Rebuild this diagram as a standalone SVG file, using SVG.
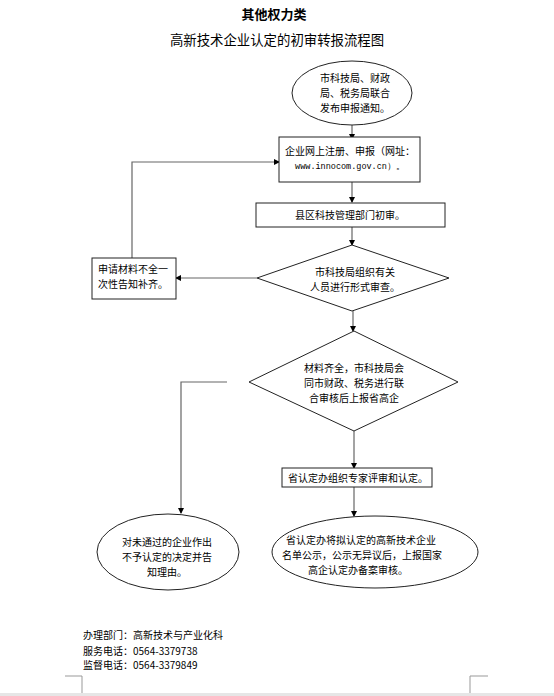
<svg xmlns="http://www.w3.org/2000/svg" width="554" height="696" viewBox="0 0 554 696">
<defs>
<marker id="arr" markerWidth="6" markerHeight="6" refX="5" refY="3" orient="auto" markerUnits="userSpaceOnUse">
<path d="M0,0 L6,3 L0,6 z" fill="#000"/>
</marker>
<style>
.t{font-family:"Noto Sans CJK SC","Liberation Sans",sans-serif;font-size:10px;fill:#000}
.c{text-anchor:middle}
.s{fill:#fff;stroke:#222;stroke-width:1}
.e{fill:none;stroke:#666;stroke-width:1.2;marker-end:url(#arr)}
.l{fill:none;stroke:#666;stroke-width:1.2}
</style>
</defs>
<rect width="554" height="696" fill="#fff"/>
<text class="t c" x="274" y="19" style="font-size:13px;font-weight:bold">其他权力类</text>
<text class="t c" x="277" y="45" style="font-size:13.4px">高新技术企业认定的初审转报流程图</text>

<g id="connectors">
<path class="e" d="M352,125 V139"/>
<path class="e" d="M352,182 V202"/>
<path class="e" d="M352,227 V245"/>
<path class="e" d="M257,278 H176"/>
<path class="e" d="M132,258 V162 H279"/>
<path class="e" d="M353,311 V331"/>
<path class="e" d="M227,382 H181 V513"/>
<path class="e" d="M354,431 V468"/>
<path class="e" d="M354,487 V516"/>
</g>

<g id="n1">
<ellipse class="s" cx="352" cy="93" rx="60" ry="32"/>
<text class="t" x="320" y="82">市科技局、财政</text>
<text class="t" x="320" y="97">局、税务局联合</text>
<text class="t" x="320" y="112">发布申报通知。</text>
</g>

<g id="n2">
<rect class="s" x="279" y="137" width="141" height="45"/>
<text class="t c" x="350" y="155">企业网上注册、申报（网址：</text>
<text class="t c" x="350" y="169" style="font-size:8.5px;font-family:'Liberation Mono',monospace">www.innocom.gov.cn）。</text>
</g>

<g id="n3">
<rect class="s" x="256" y="203" width="189" height="24"/>
<text class="t c" x="350" y="219">县区科技管理部门初审。</text>
</g>

<g id="n4">
<polygon class="s" points="352,245 449,278 352,311 257,278"/>
<text class="t c" x="355" y="276">市科技局组织有关</text>
<text class="t c" x="355" y="291">人员进行形式审查。</text>
</g>

<g id="n5">
<rect class="s" x="92" y="258" width="84" height="41"/>
<text class="t" x="98" y="273">申请材料不全一</text>
<text class="t" x="98" y="288">次性告知补齐。</text>
</g>

<g id="n6">
<polygon class="s" points="354,331 458,382 354,431 249,382"/>
<text class="t c" x="354" y="372">材料齐全，市科技局会</text>
<text class="t c" x="354" y="387">同市财政、税务进行联</text>
<text class="t c" x="354" y="402">合审核后上报省高企</text>
</g>

<g id="n7">
<rect class="s" x="282" y="468" width="150" height="19"/>
<text class="t" x="288" y="482">省认定办组织专家评审和认定。</text>
</g>

<g id="n8">
<ellipse class="s" cx="168" cy="552" rx="71" ry="38"/>
<text class="t c" x="167" y="546">对未通过的企业作出</text>
<text class="t c" x="167" y="561">不予认定的决定并告</text>
<text class="t c" x="167" y="576">知理由。</text>
</g>

<g id="n9">
<ellipse class="s" cx="375" cy="552" rx="103" ry="36"/>
<text class="t c" x="361" y="544">省认定办将拟认定的高新技术企业</text>
<text class="t c" x="362" y="559">名单公示，公示无异议后，上报国家</text>
<text class="t c" x="358" y="574">高企认定办备案审核。</text>
</g>

<g id="footer">
<text class="t" x="83" y="639">办理部门：高新技术与产业化科</text>
<text class="t" x="83" y="655">服务电话：0564-3379738</text>
<text class="t" x="83" y="669">监督电话：0564-3379849</text>
<path d="M65,676 H82 V696 M488,676 H470 V696" fill="none" stroke="#999" stroke-width="1"/>
<rect x="0" y="693" width="554" height="3" fill="#e6e6e6"/>
</g>
</svg>
